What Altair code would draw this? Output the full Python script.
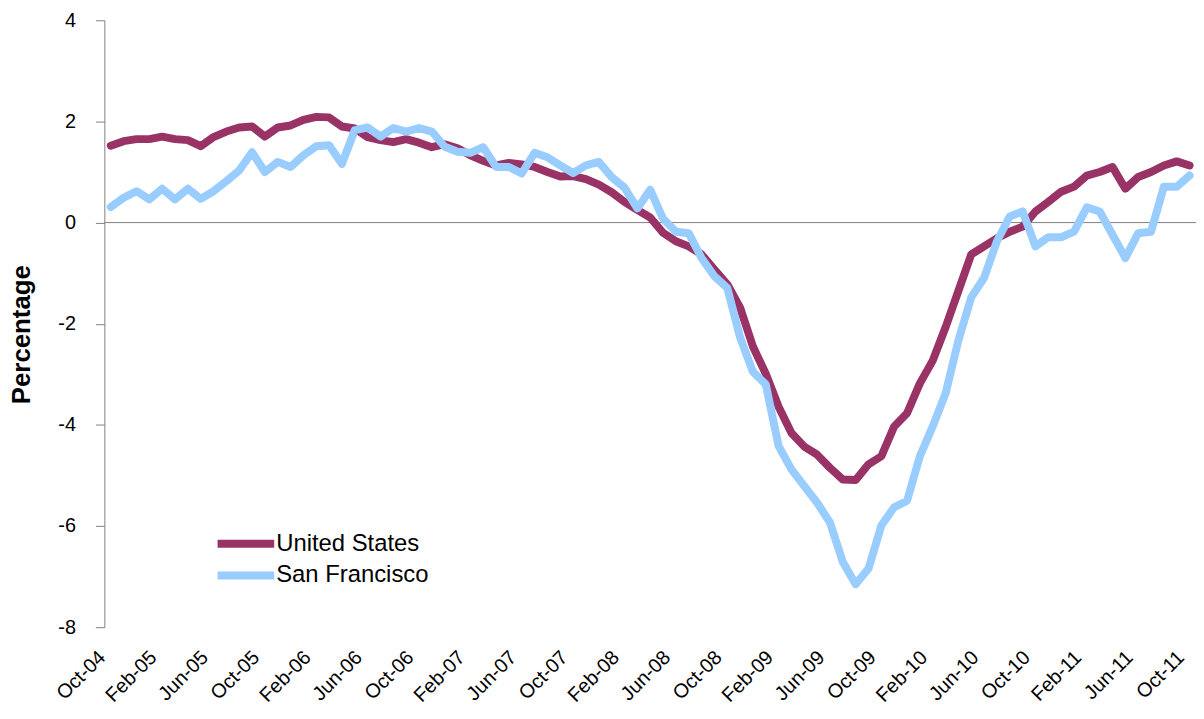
import altair as alt
import pandas as pd

# Monthly categories Oct-04 .. Oct-11
months = [p.strftime('%b-%y') for p in pd.period_range('2004-10', '2011-10', freq='M')]
tick_labels = months[::4]

series_names = ['United States', 'San Francisco']
series_colors = ['#993366', '#99CCFF']

us = [1.52, 1.61, 1.65, 1.65, 1.70, 1.65, 1.63, 1.51, 1.69, 1.80,
      1.88, 1.90, 1.70, 1.88, 1.92, 2.03, 2.09, 2.08, 1.90, 1.86,
      1.69, 1.63, 1.59, 1.65, 1.58, 1.49, 1.55, 1.47, 1.33, 1.22,
      1.13, 1.18, 1.15, 1.10, 1.00, 0.91, 0.92, 0.86, 0.75, 0.60,
      0.41, 0.25, 0.10, -0.20, -0.37, -0.47, -0.63, -0.93, -1.22, -1.68,
      -2.45, -2.99, -3.64, -4.16, -4.43, -4.59, -4.85, -5.08, -5.09, -4.78,
      -4.62, -4.03, -3.77, -3.18, -2.73, -2.07, -1.35, -0.63, -0.47, -0.31,
      -0.18, -0.08, 0.22, 0.41, 0.61, 0.71, 0.93, 1.00, 1.10, 0.67,
      0.90, 1.00, 1.13, 1.21, 1.13]

sf = [0.31, 0.49, 0.62, 0.46, 0.67, 0.46, 0.67, 0.47, 0.62, 0.82,
      1.03, 1.39, 1.00, 1.20, 1.10, 1.33, 1.51, 1.53, 1.16, 1.83,
      1.88, 1.70, 1.87, 1.80, 1.87, 1.80, 1.50, 1.40, 1.38, 1.49,
      1.10, 1.10, 0.97, 1.38, 1.29, 1.13, 0.98, 1.13, 1.20, 0.90,
      0.69, 0.28, 0.65, 0.08, -0.18, -0.21, -0.70, -1.06, -1.29, -2.27,
      -2.95, -3.20, -4.42, -4.88, -5.21, -5.54, -5.93, -6.71, -7.15, -6.84,
      -5.99, -5.63, -5.50, -4.62, -4.03, -3.38, -2.33, -1.48, -1.09, -0.37,
      0.12, 0.22, -0.47, -0.29, -0.29, -0.18, 0.30, 0.22, -0.24, -0.70,
      -0.21, -0.18, 0.71, 0.71, 0.93]

rows = []
for name, vals in zip(series_names, [us, sf]):
    for i, (m, v) in enumerate(zip(months, vals)):
        rows.append({'idx': i, 'month': m, 'value': v, 'series': name})
df = pd.DataFrame(rows)

label_expr = "[" + ",".join("'%s'" % t for t in tick_labels) + "][round(datum.value / 4)]"

x_enc = alt.X(
    'idx:Q',
    scale=alt.Scale(domain=[-0.5, 84.5], nice=False, zero=False),
    axis=alt.Axis(
        values=list(range(0, 85, 4)), labelExpr=label_expr, labelAngle=315,
        labelAlign='right', labelBaseline='middle', ticks=False, domain=False,
        grid=False, labelPadding=27, labelOffset=-9, labelFontSize=20,
        labelColor='black', labelOverlap=False, labelFlush=False, labelBound=False,
    ),
    title=None,
)

y_scale = alt.Scale(domain=[-8, 4], nice=False, zero=False)
y_enc = alt.Y(
    'value:Q', scale=y_scale,
    axis=alt.Axis(
        values=[-8, -6, -4, -2, 0, 2, 4], labelExpr="'' + datum.value",
        grid=False, tickSize=9,
        tickColor='#808080', domainColor='#808080', labelFontSize=20,
        labelPadding=20, labelColor='black',
        titleFontSize=26, titleFontWeight='bold', titleColor='black',
        titleX=-83, titleY=316, titleAngle=270, titleAlign='center',
        titleBaseline='middle',
    ),
    title='Percentage',
)

zero = alt.Chart(pd.DataFrame({'z': [0]})).mark_rule(color='#808080', strokeWidth=1).encode(
    y=alt.Y('z:Q', scale=y_scale)
)

lines = alt.Chart(df).mark_line(strokeWidth=8, strokeCap='round', strokeJoin='round').encode(
    x=x_enc,
    y=y_enc,
    color=alt.Color(
        'series:N',
        scale=alt.Scale(domain=series_names, range=series_colors),
        legend=alt.Legend(
            orient='none', legendX=128.5, legendY=513,
            symbolType='M-2.85,0H2.85', symbolSize=400, symbolStrokeWidth=8,
            labelFontSize=24, labelOffset=16.5, rowPadding=0,
            labelColor='black', padding=0,
        ),
        title=None,
    ),
    detail='series:N',
)

chart = alt.layer(zero, lines).properties(
    width=1099, height=611,
    padding={'left': 97, 'top': 10, 'right': 0, 'bottom': 80},
    autosize=alt.AutoSizeParams(type='none'),
).configure(font='Liberation Sans').configure_view(stroke=None)

chart.save('out.html', embed_options={'renderer': 'svg', 'actions': False})
